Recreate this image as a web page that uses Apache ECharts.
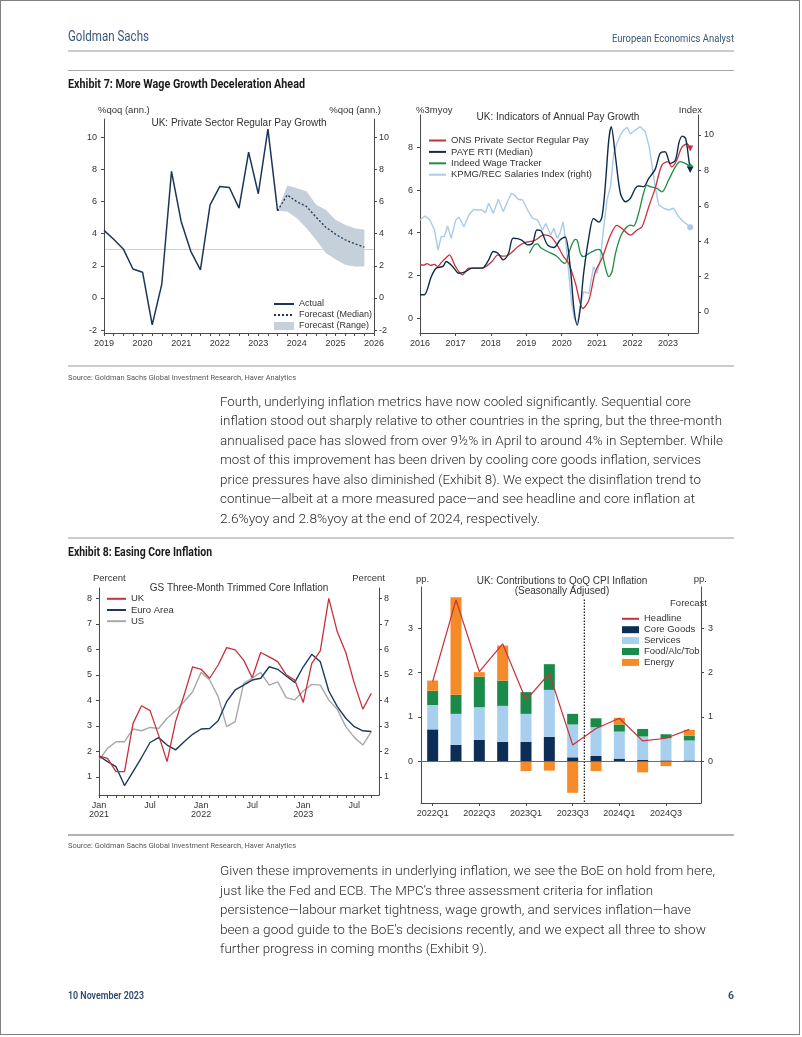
<!DOCTYPE html>
<html><head><meta charset="utf-8">
<script src="https://cdn.jsdelivr.net/npm/echarts@6/dist/echarts.min.js"></script>
<style>
html,body{margin:0;padding:0;background:#fff;}
#page{position:relative;width:802px;height:1037px;overflow:hidden;background:#fff;}
.t{position:absolute;white-space:nowrap;transform-origin:0 50%;}
.hr{position:absolute;left:68px;width:666px;}
#chart{position:absolute;left:0;top:0;width:802px;height:1037px;}
#frame{position:absolute;left:0;top:0;width:798px;height:1033px;border:1.5px solid #808080;pointer-events:none;}
</style></head>
<body>
<div id="page">
  <div class="hr" style="top:50px;height:2px;background:#cccccc"></div>
  <div class="hr" style="top:69.5px;height:1px;background:#a6a6a6"></div>
  <div class="hr" style="top:365px;height:2px;background:#cccccc"></div>
  <div class="hr" style="top:537px;height:2px;background:#cccccc"></div>
  <div class="hr" style="top:834px;height:1.5px;background:#b3b3b3"></div>
  <div id="chart"></div>
  <div id="frame"></div>
</div>
<script>
// ---------------- DATA ----------------
// Chart 1: UK private sector regular pay growth (quarterly, %qoq ann.)
const payActualX = [2019.0,2019.25,2019.5,2019.75,2020.0,2020.25,2020.5,2020.75,2021.0,2021.25,2021.5,2021.75,2022.0,2022.25,2022.5,2022.75,2023.0,2023.25,2023.5];
const payActual  = [4.2,3.65,3.05,1.8,1.6,-1.67,0.88,7.87,4.76,2.9,1.75,5.79,6.93,6.87,5.59,9.07,6.48,10.5,5.42];
const payFcstX   = [2023.5,2023.75,2024.0,2024.25,2024.5,2024.75,2025.0,2025.25,2025.5,2025.75];
const payMedian  = [5.42,6.41,5.98,5.69,5.02,4.4,3.97,3.62,3.37,3.16];
const payUpper   = [5.42,7.0,6.83,6.64,5.79,5.48,4.86,4.55,4.34,4.24];
const payLower   = [5.42,5.38,4.96,4.34,3.6,2.8,2.4,2.06,1.96,1.96];
const payRefLevel = 3;
const yearTicks1 = [2019,2020,2021,2022,2023,2024,2025,2026];
const yTicks1 = [-2,0,2,4,6,8,10];

// Chart 2: UK indicators of annual pay growth
const onsX = [2016.0,2016.1,2016.2,2016.3,2016.4,2016.5,2016.6,2016.75,2016.83,2017.0,2017.2,2017.38,2017.75,2018.03,2018.2,2018.35,2018.5,2018.77,2018.95,2019.23,2019.5,2019.69,2019.87,2020.05,2020.2,2020.39,2020.6,2020.77,2020.95,2021.14,2021.38,2021.56,2021.75,2021.94,2022.13,2022.27,2022.46,2022.64,2022.83,2023.0,2023.11,2023.25,2023.39,2023.54,2023.63];
const onsY = [2.5,2.48,2.55,2.47,2.52,2.42,2.6,2.85,2.96,2.42,2.03,2.34,2.34,2.65,2.96,2.9,2.96,3.35,3.54,3.63,3.9,3.82,3.43,2.89,2.56,1.62,0.45,0.84,2.17,2.8,3.89,4.35,4.13,3.89,4.13,4.28,5.22,6.08,7.17,7.33,7.09,7.4,8.0,8.16,7.95];
const payeX = [2016.0,2016.12,2016.32,2016.46,2016.65,2016.74,2016.92,2017.1,2017.29,2017.47,2017.75,2017.94,2018.07,2018.2,2018.35,2018.5,2018.63,2018.86,2019.04,2019.18,2019.3,2019.41,2019.6,2019.78,2019.96,2020.1,2020.25,2020.34,2020.44,2020.53,2020.62,2020.77,2020.9,2021.05,2021.14,2021.23,2021.33,2021.4,2021.52,2021.66,2021.8,2021.94,2022.08,2022.17,2022.31,2022.46,2022.64,2022.78,2022.92,2023.07,2023.21,2023.32,2023.41,2023.5,2023.58,2023.63];
const payeY = [1.09,1.09,1.95,2.34,2.42,2.65,2.42,2.1,2.18,2.34,2.34,2.73,3.12,3.04,2.73,3.04,3.74,3.67,3.43,3.51,4.13,4.1,3.43,3.31,3.67,3.8,2.25,0.53,-0.33,0.53,2.09,3.8,4.67,4.5,4.75,6.16,8.34,8.97,7.56,5.84,5.45,5.61,6.08,6.19,6.16,6.55,6.97,7.72,7.8,7.25,7.4,8.27,8.53,8.42,7.56,6.94];
const indX = [2019.09,2019.23,2019.32,2019.41,2019.6,2019.87,2020.01,2020.1,2020.2,2020.3,2020.39,2020.45,2020.53,2020.62,2020.77,2020.95,2021.05,2021.14,2021.23,2021.33,2021.42,2021.52,2021.66,2021.8,2021.94,2022.03,2022.17,2022.31,2022.41,2022.5,2022.69,2022.83,2023.02,2023.21,2023.35,2023.49,2023.63];
const indY = [3.04,3.43,3.48,3.3,3.12,2.89,2.64,2.56,3.03,3.5,3.69,3.6,3.03,2.88,3.03,3.19,3.22,3.03,2.4,1.94,2.17,3.03,3.81,4.2,4.36,4.31,4.9,5.84,6.23,6.16,6.08,5.92,6.47,7.09,7.33,7.25,7.09];
const kpmgX = [2016.0,2016.14,2016.28,2016.41,2016.51,2016.6,2016.69,2016.78,2016.88,2017.01,2017.1,2017.24,2017.38,2017.52,2017.61,2017.75,2017.85,2017.94,2018.07,2018.21,2018.35,2018.49,2018.58,2018.67,2018.77,2018.9,2019.04,2019.18,2019.32,2019.46,2019.55,2019.69,2019.78,2019.87,2019.96,2020.04,2020.12,2020.2,2020.28,2020.36,2020.44,2020.53,2020.62,2020.77,2020.9,2021.0,2021.09,2021.19,2021.28,2021.38,2021.47,2021.56,2021.66,2021.75,2021.85,2021.94,2022.08,2022.22,2022.36,2022.47,2022.57,2022.64,2022.74,2022.88,2023.02,2023.16,2023.3,2023.44,2023.56,2023.63];
const kpmgY = [5.2,5.42,5.2,4.63,3.5,4.26,4.26,4.86,4.16,5.2,5.35,4.82,5.48,5.8,5.76,5.76,5.61,6.14,5.57,6.37,5.67,6.33,6.7,6.61,6.37,6.33,5.76,5.29,5.2,4.63,5.0,4.35,4.73,4.16,4.5,5.1,3.9,2.2,0.5,-0.4,-0.64,0.3,1.15,1.05,2.56,2.18,2.94,4.82,6.33,7.08,8.96,9.53,10.0,10.28,10.43,10.06,10.28,10.47,10.19,9.34,8.02,7.08,6.05,5.86,5.76,5.86,5.39,5.1,4.92,4.78];
const yearTicks2 = [2016,2017,2018,2019,2020,2021,2022,2023];
const yTicks2L = [0,2,4,6,8];
const yTicks2R = [0,2,4,6,8,10];

// Chart 3: GS three-month trimmed core inflation (monthly, Jan 2021 = 0)
const coreUK = [1.82,1.73,1.21,1.21,3.1,3.79,3.6,2.64,1.6,3.17,4.21,5.32,5.22,4.87,5.39,6.07,5.98,5.58,4.89,5.88,5.71,5.52,5.0,4.8,3.92,5.45,5.94,8.0,6.69,5.88,4.67,3.66,4.28];
const coreEA = [1.82,1.6,1.4,0.66,1.21,1.76,2.35,2.54,2.25,2.06,2.38,2.67,2.88,2.9,3.2,3.95,4.41,4.6,4.8,4.87,5.32,5.22,4.96,4.71,5.32,5.81,5.52,4.37,3.76,3.3,2.97,2.81,2.78];
const coreUS = [1.66,2.12,2.38,2.38,2.88,2.81,2.94,2.9,3.3,3.6,3.95,4.34,5.1,4.8,4.15,2.97,3.17,4.67,4.87,5.1,4.6,4.73,4.11,4.02,4.37,4.63,4.6,4.02,3.65,2.97,2.55,2.25,2.78];
const monthLabels3 = [0,6,12,18,24,30];
const yTicks3 = [1,2,3,4,5,6,7,8];

// Chart 4: UK contributions to QoQ CPI inflation
const quarters = ['2022Q1','2022Q2','2022Q3','2022Q4','2023Q1','2023Q2','2023Q3','2023Q4','2024Q1','2024Q2','2024Q3','2024Q4'];
const coreGoods = [0.72,0.37,0.48,0.44,0.44,0.55,0.09,0.12,0.06,0.03,0.02,0.02];
const services  = [0.55,0.70,0.74,0.81,0.63,1.06,0.74,0.65,0.61,0.53,0.50,0.45];
const foodAlcTob = [0.32,0.43,0.69,0.57,0.49,0.58,0.24,0.20,0.16,0.17,0.09,0.11];
const energy    = [0.23,2.20,0.10,0.79,-0.22,-0.21,-0.71,-0.22,0.15,-0.25,-0.11,0.13];
const headline  = [1.8,3.64,2.02,2.65,1.38,1.98,0.37,0.74,0.97,0.46,0.52,0.72];
const lastActualQuarter = '2023Q3';
const yTicks4 = [0,1,2,3];

// ---------------- PAGE TEXT ----------------
const page = document.getElementById('page');
const BODY = "Roboto, 'Liberation Sans', sans-serif";
function addText(txt, x, yc, size, o) {
  o = o || {};
  const d = document.createElement('div');
  d.className = 't';
  d.textContent = txt;
  d.style.fontFamily = o.family || BODY;
  d.style.fontSize = size + 'px';
  d.style.fontWeight = o.weight || 400;
  d.style.color = o.color || '#222';
  d.style.lineHeight = Math.round(size * 1.3) + 'px';
  d.style.top = (yc - Math.round(size * 1.3) / 2) + 'px';
  d.style.left = '0px';
  page.appendChild(d);
  const w = d.getBoundingClientRect().width;
  const tw = o.w || w;
  const sx = tw / w;
  d.style.left = (o.align === 'right' ? x - tw : x) + 'px';
  d.style.transform = 'scaleX(' + sx + ')';
}
const BLUE = '#3a5779';
addText('Goldman Sachs', 68, 36.7, 14.5, {color: BLUE, w: 81});
addText('European Economics Analyst', 734, 38.5, 11, {color: BLUE, w: 122, align: 'right'});
addText('Exhibit 7: More Wage Growth Deceleration Ahead', 68, 83.5, 12, {weight: 700, color: '#1a1a1a', w: 237});
addText('Source: Goldman Sachs Global Investment Research, Haver Analytics', 68, 377.5, 8, {color: '#555', w: 228});
addText('Exhibit 8: Easing Core Inflation', 68, 552, 12, {weight: 700, color: '#1a1a1a', w: 144});
addText('Source: Goldman Sachs Global Investment Research, Haver Analytics', 68, 845.5, 8, {color: '#555', w: 228});
addText('10 November 2023', 68, 996, 10.5, {weight: 600, color: '#2f4a6e', w: 76});
addText('6', 734, 996, 10.5, {weight: 600, color: '#2f4a6e', align: 'right'});

const para1 = [
 ['Fourth, underlying inflation metrics have now cooled significantly. Sequential core', 471],
 ['inflation stood out sharply relative to other countries in the spring, but the three-month', 502],
 ['annualised pace has slowed from over 9½% in April to around 4% in September. While', 503],
 ['most of this improvement has been driven by cooling core goods inflation, services', 481],
 ['price pressures have also diminished (Exhibit 8). We expect the disinflation trend to', 481],
 ['continue\u2014albeit at a more measured pace\u2014and see headline and core inflation at', 475],
 ['2.6%yoy and 2.8%yoy at the end of 2024, respectively.', 320]
];
para1.forEach((l, i) => addText(l[0], 220, 400.7 + i * 19.55, 13.5, {weight: 300, color: '#2b2b2b', w: l[1]}));
const para2 = [
 ['Given these improvements in underlying inflation, we see the BoE on hold from here,', 495],
 ['just like the Fed and ECB. The MPC\u2019s three assessment criteria for inflation', 433],
 ['persistence\u2014labour market tightness, wage growth, and services inflation\u2014have', 471],
 ['been a good guide to the BoE\u2019s decisions recently, and we expect all three to show', 486],
 ['further progress in coming months (Exhibit 9).', 267]
];
para2.forEach((l, i) => addText(l[0], 220, 870 + i * 19.6, 13.5, {weight: 300, color: '#2b2b2b', w: l[1]}));

// ---------------- CHARTS ----------------
const FONT = "'Liberation Sans', Arial, Helvetica, sans-serif";
const AX = '#4a4a4a';
const NAVY = '#1b3658', RED = '#c8313a', GREEN = '#1f8b45', LBLUE = '#a9cbe9', GRAY = '#a8a8a8', BAND = '#c6d0db';
const zip = (xs, ys) => xs.map((x, i) => [x, ys[i]]);
function withEnd(pts, sym, size, rot) {
  const d = pts.slice();
  const k = d.length - 1;
  d[k] = {value: d[k], symbol: sym, symbolSize: size, symbolRotate: rot || 0};
  return d;
}
function yAx(grid, min, max, vals, pos, margin) {
  return {type: 'value', gridIndex: grid, min: min, max: max, position: pos,
    axisLine: {show: true, onZero: false, lineStyle: {color: AX, width: 1}},
    axisTick: {show: true, length: 3, customValues: vals, lineStyle: {color: AX}},
    axisLabel: {customValues: vals, fontSize: 9, color: '#333', margin: margin, fontFamily: FONT},
    splitLine: {show: false}};
}
function xValAx(grid, min, max, ticks, labels, fmt) {
  return {type: 'value', gridIndex: grid, min: min, max: max,
    axisLine: {show: true, onZero: false, lineStyle: {color: AX, width: 1}},
    axisTick: {show: true, length: 3, customValues: ticks, lineStyle: {color: AX}},
    axisLabel: {customValues: labels, fontSize: 9, color: '#333', margin: 6, lineHeight: 9, fontFamily: FONT, formatter: fmt},
    splitLine: {show: false}};
}
const quarterTicks1 = [];
for (let q = 0; q <= 28; q++) quarterTicks1.push(2019 + q / 4);
const monthTicks3 = [];
for (let m = 0; m <= 32; m++) monthTicks3.push(m);
const monthFmt = v => (v % 12 === 0) ? 'Jan\n' + (2021 + v / 12) : 'Jul';

function gtext(text, x, y, size, align, color) {
  return {type: 'text', x: x, y: y, silent: true,
    style: {text: text, fill: color || '#333', font: size + 'px ' + FONT, align: align || 'left', verticalAlign: 'middle'}};
}
const legendText = {fontSize: 9, color: '#333', fontFamily: FONT, lineHeight: 9};
const noSym = {opacity: 0};

const option = {
  animation: false,
  grid: [
    {left: 104, top: 119, width: 270, height: 214},
    {left: 420, top: 115, width: 278, height: 218},
    {left: 99, top: 588, width: 280, height: 207},
    {left: 421, top: 587, width: 280, height: 216}
  ],
  xAxis: [
    xValAx(0, 2019, 2026, quarterTicks1, yearTicks1, v => String(v)),
    xValAx(1, 2016, 2023.85, yearTicks2, yearTicks2, v => String(v)),
    xValAx(2, 0, 32.9, monthTicks3, monthLabels3, monthFmt),
    {type: 'category', gridIndex: 3, data: quarters, boundaryGap: true,
      axisLine: {show: true, onZero: false, lineStyle: {color: AX, width: 1}},
      axisTick: {show: true, length: 3, interval: 1, alignWithLabel: true, lineStyle: {color: AX}},
      axisLabel: {interval: 1, fontSize: 9, color: '#333', margin: 6, lineHeight: 9, fontFamily: FONT},
      splitLine: {show: false}}
  ],
  yAxis: [
    yAx(0, -2.18, 11.13, yTicks1, 'left', 7),
    yAx(0, -2.18, 11.13, yTicks1, 'right', 5),
    yAx(1, -0.70, 9.52, yTicks2L, 'left', 7),
    yAx(1, -1.19, 11.13, yTicks2R, 'right', 6),
    yAx(2, 0.29, 8.41, yTicks3, 'left', 7),
    yAx(2, 0.29, 8.41, yTicks3, 'right', 5),
    yAx(3, -0.94, 3.93, yTicks4, 'left', 8),
    yAx(3, -0.94, 3.93, yTicks4, 'right', 7)
  ],
  legend: [
    {data: [{name: 'Actual', itemStyle: noSym}, {name: 'Forecast (Median)', itemStyle: noSym}, {name: 'Forecast (Range)', icon: 'rect'}],
      left: 268, top: 294.5, orient: 'vertical', itemWidth: 20, itemHeight: 8, itemGap: 2,
      textStyle: legendText, selectedMode: false},
    {data: ['ONS Private Sector Regular Pay', 'PAYE RTI (Median)', 'Indeed Wage Tracker', 'KPMG/REC Salaries Index (right)'],
      left: 423, top: 130.5, orient: 'vertical', itemWidth: 17, itemHeight: 8, itemGap: 1.4, itemStyle: noSym,
      textStyle: Object.assign({}, legendText, {fontSize: 9.5}), selectedMode: false},
    {data: ['UK', 'Euro Area', 'US'],
      left: 101, top: 588.8, orient: 'vertical', itemWidth: 19, itemHeight: 8, itemGap: 1.2,
      itemStyle: noSym, textStyle: Object.assign({}, legendText, {fontSize: 9.5}), selectedMode: false},
    {data: [{name: 'Headline', itemStyle: noSym}, {name: 'Core Goods', icon: 'rect'}, {name: 'Services', icon: 'rect'}, {name: 'Food/Alc/Tob', icon: 'rect'}, {name: 'Energy', icon: 'rect'}],
      left: 616, top: 608.8, orient: 'vertical', itemWidth: 17, itemHeight: 7, itemGap: 0.9,
      textStyle: Object.assign({}, legendText, {fontSize: 9.5}), selectedMode: false}
  ],
  series: [
    // ---- chart 1
    {name: 'Forecast (Range)', type: 'custom', xAxisIndex: 0, yAxisIndex: 0, silent: true, z: 1,
      color: BAND, itemStyle: {color: BAND},
      data: payFcstX.map((x, i) => [x, payLower[i], payUpper[i]]),
      encode: {x: 0, y: [1, 2]},
      renderItem: function (params, api) {
        if (params.dataIndex !== 0) return null;
        const pts = [];
        for (let i = 0; i < payFcstX.length; i++) pts.push(api.coord([payFcstX[i], payUpper[i]]));
        for (let i = payFcstX.length - 1; i >= 0; i--) pts.push(api.coord([payFcstX[i], payLower[i]]));
        return {type: 'polygon', shape: {points: pts}, style: {fill: BAND}};
      }},
    {name: 'Actual', type: 'line', xAxisIndex: 0, yAxisIndex: 0, symbol: 'none', color: NAVY,
      data: zip(payActualX, payActual), lineStyle: {color: NAVY, width: 1.5}, z: 3,
      markLine: {silent: true, symbol: 'none', label: {show: false}, z: 0,
        lineStyle: {color: '#cfcfcf', type: 'solid', width: 1}, data: [{yAxis: payRefLevel}]}},
    {name: 'Forecast (Median)', type: 'line', xAxisIndex: 0, yAxisIndex: 0, symbol: 'none', color: NAVY,
      data: zip(payFcstX, payMedian), lineStyle: {color: NAVY, width: 1.3, type: [2, 2]}, z: 3},
    // ---- chart 2
    {name: 'KPMG/REC Salaries Index (right)', type: 'line', xAxisIndex: 1, yAxisIndex: 3, symbol: 'none', showSymbol: true, color: LBLUE,
      data: withEnd(zip(kpmgX, kpmgY), 'circle', 6), lineStyle: {color: LBLUE, width: 1.4}, itemStyle: {color: LBLUE}},
    {name: 'Indeed Wage Tracker', type: 'line', xAxisIndex: 1, yAxisIndex: 2, symbol: 'none', showSymbol: true, smooth: 0.3, color: GREEN,
      data: withEnd(zip(indX, indY), 'diamond', 7), lineStyle: {color: GREEN, width: 1.3}, itemStyle: {color: GREEN}},
    {name: 'ONS Private Sector Regular Pay', type: 'line', xAxisIndex: 1, yAxisIndex: 2, symbol: 'none', showSymbol: true, smooth: 0.3, color: RED,
      data: withEnd(zip(onsX, onsY), 'triangle', 6, 180), lineStyle: {color: RED, width: 1.3}, itemStyle: {color: RED}},
    {name: 'PAYE RTI (Median)', type: 'line', xAxisIndex: 1, yAxisIndex: 2, symbol: 'none', showSymbol: true, smooth: 0.3, color: '#0f2b4b',
      data: withEnd(zip(payeX, payeY), 'triangle', 6, 180), lineStyle: {color: '#0f2b4b', width: 1.4}, itemStyle: {color: '#0f2b4b'}},
    // ---- chart 3
    {name: 'US', type: 'line', xAxisIndex: 2, yAxisIndex: 4, symbol: 'none', color: GRAY,
      data: coreUS.map((v, i) => [i, v]), lineStyle: {color: GRAY, width: 1.4}},
    {name: 'Euro Area', type: 'line', xAxisIndex: 2, yAxisIndex: 4, symbol: 'none', color: '#1d3a5c',
      data: coreEA.map((v, i) => [i, v]), lineStyle: {color: '#1d3a5c', width: 1.4}},
    {name: 'UK', type: 'line', xAxisIndex: 2, yAxisIndex: 4, symbol: 'none', color: RED,
      data: coreUK.map((v, i) => [i, v]), lineStyle: {color: RED, width: 1.3}},
    // ---- chart 4
    {name: 'Core Goods', type: 'bar', xAxisIndex: 3, yAxisIndex: 6, stack: 'cpi', barWidth: 11, color: '#0b2d56',
      data: coreGoods, itemStyle: {color: '#0b2d56'},
      markLine: {silent: true, symbol: 'none', label: {show: false},
        lineStyle: {color: '#6b6b6b', type: 'solid', width: 1}, data: [{yAxis: 0}]}},
    {name: 'Services', type: 'bar', xAxisIndex: 3, yAxisIndex: 6, stack: 'cpi', barWidth: 11, color: '#a9cfee',
      data: services, itemStyle: {color: '#a9cfee'}},
    {name: 'Food/Alc/Tob', type: 'bar', xAxisIndex: 3, yAxisIndex: 6, stack: 'cpi', barWidth: 11, color: '#1a8a4a',
      data: foodAlcTob, itemStyle: {color: '#1a8a4a'}},
    {name: 'Energy', type: 'bar', xAxisIndex: 3, yAxisIndex: 6, stack: 'cpi', barWidth: 11, color: '#f58a29',
      data: energy, itemStyle: {color: '#f58a29'}},
    {name: 'Headline', type: 'line', xAxisIndex: 3, yAxisIndex: 6, symbol: 'none', color: RED, z: 5,
      data: headline, lineStyle: {color: RED, width: 1.2}}
  ],
  graphic: [
    gtext('UK: Private Sector Regular Pay Growth', 239, 123.5, 10, 'center'),
    gtext('%qoq (ann.)', 98, 110.5, 9.5, 'left'),
    gtext('%qoq (ann.)', 381, 110.5, 9.5, 'right'),
    gtext('UK: Indicators of Annual Pay Growth', 558, 117, 10, 'center'),
    gtext('%3myoy', 416, 110, 9.5, 'left'),
    gtext('Index', 702, 110, 9.5, 'right'),
    gtext('GS Three-Month Trimmed Core Inflation', 239, 588.5, 10, 'center'),
    gtext('Percent', 93, 578.5, 9.5, 'left'),
    gtext('Percent', 385, 578.5, 9.5, 'right'),
    gtext('UK: Contributions to QoQ CPI Inflation', 562, 581, 10, 'center'),
    gtext('(Seasonally Adjused)', 562, 591.5, 10, 'center'),
    gtext('pp.', 416, 579, 9.5, 'left'),
    gtext('pp.', 707, 579, 9.5, 'right'),
    gtext('Forecast', 707, 603.5, 9.5, 'right')
  ]
};

const chart = echarts.init(document.getElementById('chart'), null, {renderer: 'canvas'});
chart.setOption(option);

// dotted separator between last actual quarter and the forecast, placed through the category axis scale
const qi = quarters.indexOf(lastActualQuarter);
const xa = chart.convertToPixel({xAxisIndex: 3}, quarters[qi]);
const xb = chart.convertToPixel({xAxisIndex: 3}, quarters[qi + 1]);
const xSep = (xa + xb) / 2;
const yTop = chart.convertToPixel({yAxisIndex: 6}, 3.65);
const yBot = chart.convertToPixel({yAxisIndex: 6}, -0.94);
chart.setOption({graphic: option.graphic.concat([
  {type: 'line', silent: true, shape: {x1: xSep, y1: yTop, x2: xSep, y2: yBot},
    style: {stroke: '#111', lineWidth: 1.2, lineDash: [1.5, 1.5]}}
])});
</script>
</body></html>
